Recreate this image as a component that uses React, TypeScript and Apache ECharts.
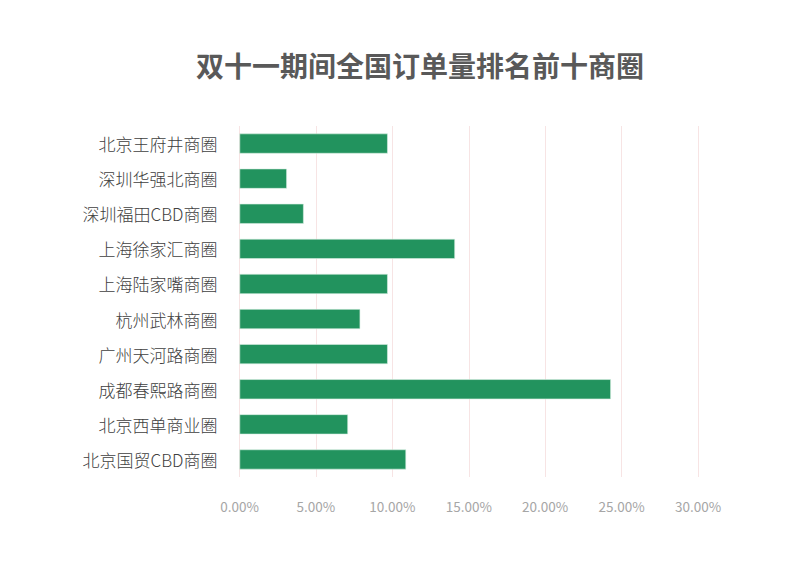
import React, { useEffect, useRef } from "react";
import * as echarts from "echarts";

const categories = [
  "北京王府井商圈",
  "深圳华强北商圈",
  "深圳福田CBD商圈",
  "上海徐家汇商圈",
  "上海陆家嘴商圈",
  "杭州武林商圈",
  "广州天河路商圈",
  "成都春熙路商圈",
  "北京西单商业圈",
  "北京国贸CBD商圈",
];

const shares = [0.097, 0.031, 0.042, 0.141, 0.097, 0.079, 0.097, 0.243, 0.071, 0.109];

const xTicks = [0, 0.05, 0.1, 0.15, 0.2, 0.25, 0.3];

const titleText = "双十一期间全国订单量排名前十商圈";

export default function App() {
  const ref = useRef<HTMLDivElement>(null);
  useEffect(() => {
    if (!ref.current) return;
    const chart = echarts.init(ref.current, undefined, { renderer: "svg" });
    chart.setOption({
      animation: false,
      backgroundColor: "#ffffff",
      title: {
        text: titleText,
        left: 415,
        top: 46,
        textAlign: "center",
        textStyle: {
          fontFamily: "Noto Sans CJK SC",
          fontSize: 28,
          fontWeight: "bold",
          color: "#595959",
        },
      },
      grid: {
        left: 239.5,
        right: 102,
        top: 126,
        height: 351,
        containLabel: false,
      },
      xAxis: {
        type: "value",
        min: xTicks[0],
        max: xTicks[xTicks.length - 1],
        interval: 0.05,
        axisLine: { show: false },
        axisTick: { show: false },
        splitLine: { show: true, lineStyle: { color: "#f7e4e4", width: 1 } },
        axisLabel: {
          margin: 22,
          color: "#a6a6a6",
          fontSize: 13.5,
          fontFamily: "Noto Sans CJK SC",
          formatter: (v: number) => (v * 100).toFixed(2) + "%",
        },
      },
      yAxis: {
        type: "category",
        data: categories,
        inverse: true,
        axisLine: { show: false },
        axisTick: { show: false },
        splitLine: { show: false },
        axisLabel: {
          margin: 22,
          color: "#404040",
          fontSize: 17,
          fontWeight: 300,
          fontFamily: "Noto Sans CJK SC",
        },
      },
      series: [
        {
          type: "bar",
          data: shares,
          barWidth: 20,
          itemStyle: {
            color: "#22935e",
            borderColor: "#d8efe2",
            borderWidth: 0.6,
          },
        },
      ],
    });
    return () => chart.dispose();
  }, []);
  return (
    <div
      ref={ref}
      style={{ position: "fixed", left: 0, top: 0, width: 800, height: 562, background: "#fff" }}
    />
  );
}
